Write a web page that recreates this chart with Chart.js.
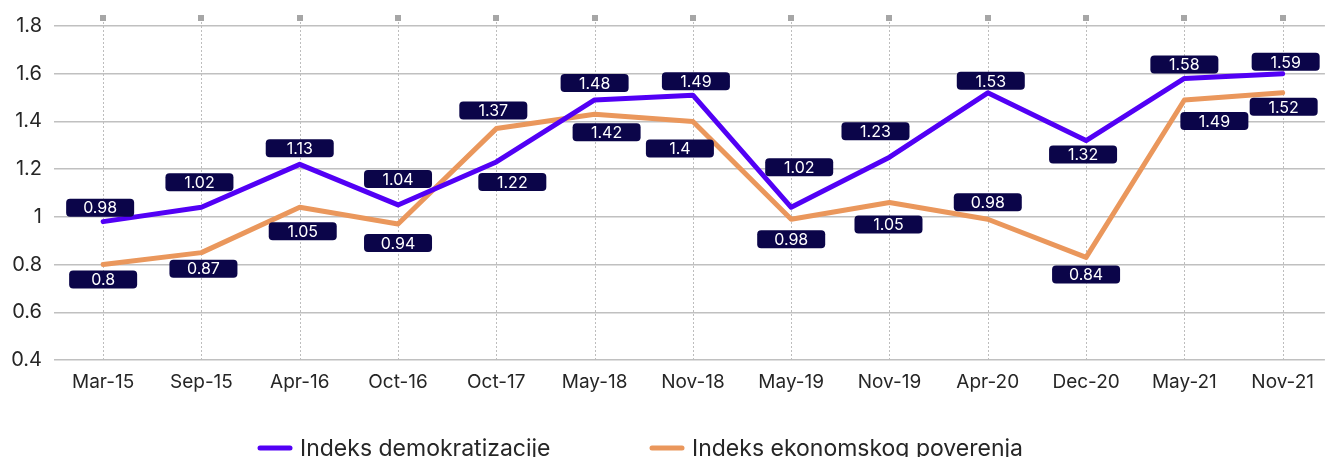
<!DOCTYPE html>
<html>
<head>
<meta charset="utf-8">
<script src="https://cdn.jsdelivr.net/npm/chart.js@4"></script>
<style>
  html, body { margin: 0; padding: 0; background: #fff; }
  #wrap { width: 1325px; height: 457px; position: relative; overflow: hidden; }
</style>
</head>
<body>
<div id="wrap"><canvas id="chart" width="1325" height="457"></canvas></div>
<script>
const categories = ["Mar-15", "Sep-15", "Apr-16", "Oct-16", "Oct-17", "May-18", "Nov-18", "May-19", "Nov-19", "Apr-20", "Dec-20", "May-21", "Nov-21"];

// line positions as drawn in the picture
const demokratizacija = [0.98, 1.04, 1.22, 1.05, 1.23, 1.49, 1.51, 1.04, 1.25, 1.52, 1.32, 1.58, 1.6];
const ekonomsko = [0.8, 0.85, 1.04, 0.97, 1.37, 1.43, 1.4, 0.99, 1.06, 0.99, 0.83, 1.49, 1.52];

// the printed data labels
const demoLabels = ["0.98", "1.02", "1.13", "1.04", "1.22", "1.48", "1.49", "1.02", "1.23", "1.53", "1.32", "1.58", "1.59"];
const ekonLabels = ["0.8", "0.87", "1.05", "0.94", "1.37", "1.42", "1.4", "0.98", "1.05", "0.98", "0.84", "1.49", "1.52"];

const seriesNames = ["Indeks demokratizacije", "Indeks ekonomskog poverenja"];

const PURPLE = "#5200f5";
const ORANGE = "#ea975c";
const NAVY = "#0b0549";
const TEXT = "#262626";
const FONT = "Inter, 'Open Sans', sans-serif";

// label box offsets from their point, px
const demoOffsets = [[-3, -14], [-2, -25], [0, -16], [0, -26], [16, 20], [0, -17], [3, -14], [8, -40], [-14, -26], [3, -12], [-3, 14], [0, -14], [3, -12]];
const ekonOffsets = [[0, 15], [2, 16], [3, 24], [0, 19], [-3, -18], [12, 18], [-13, 27], [0, 20], [-1, 22], [0, -17], [0, 17], [30, 21], [1, 14]];

function roundRect(ctx, x, y, w, h, r) {
  ctx.beginPath();
  ctx.moveTo(x + r, y);
  ctx.lineTo(x + w - r, y);
  ctx.quadraticCurveTo(x + w, y, x + w, y + r);
  ctx.lineTo(x + w, y + h - r);
  ctx.quadraticCurveTo(x + w, y + h, x + w - r, y + h);
  ctx.lineTo(x + r, y + h);
  ctx.quadraticCurveTo(x, y + h, x, y + h - r);
  ctx.lineTo(x, y + r);
  ctx.quadraticCurveTo(x, y, x + r, y);
  ctx.closePath();
}

const verticalGuides = {
  id: "verticalGuides",
  beforeDatasetsDraw(chart) {
    const { ctx, chartArea, scales } = chart;
    ctx.save();
    categories.forEach((c, i) => {
      const x = Math.round(scales.x.getPixelForValue(i)) + 0.5;
      ctx.strokeStyle = "#bdbdbd";
      ctx.lineWidth = 1;
      ctx.setLineDash([2, 2]);
      ctx.beginPath();
      ctx.moveTo(x, 18);
      ctx.lineTo(x, chartArea.bottom);
      ctx.stroke();
      ctx.setLineDash([]);
      ctx.fillStyle = "#a6a6a6";
      ctx.fillRect(x - 3.5, 15, 6, 6);
    });
    ctx.restore();
  },
};

const dataLabels = {
  id: "dataLabels",
  afterDatasetsDraw(chart) {
    const { ctx } = chart;
    const sets = [
      { meta: chart.getDatasetMeta(0), labels: demoLabels, offsets: demoOffsets },
      { meta: chart.getDatasetMeta(1), labels: ekonLabels, offsets: ekonOffsets },
    ];
    ctx.save();
    ctx.font = "16px " + FONT;
    ctx.textAlign = "center";
    ctx.textBaseline = "middle";
    sets.forEach((s) => {
      s.meta.data.forEach((pt, i) => {
        const cx = pt.x + s.offsets[i][0];
        const cy = pt.y + s.offsets[i][1];
        ctx.fillStyle = NAVY;
        roundRect(ctx, cx - 34, cy - 9, 68, 18, 4);
        ctx.fill();
        ctx.fillStyle = "#ffffff";
        ctx.fillText(s.labels[i], cx, cy + 1);
      });
    });
    ctx.restore();
  },
};

const bottomLegend = {
  id: "bottomLegend",
  afterDraw(chart) {
    const { ctx } = chart;
    const items = [
      { x: 258, color: PURPLE, text: seriesNames[0] },
      { x: 650, color: ORANGE, text: seriesNames[1] },
    ];
    const y = 448;
    ctx.save();
    ctx.font = "23px " + FONT;
    ctx.textBaseline = "middle";
    ctx.textAlign = "left";
    items.forEach((it) => {
      ctx.strokeStyle = it.color;
      ctx.lineWidth = 5;
      ctx.lineCap = "round";
      ctx.beginPath();
      ctx.moveTo(it.x + 2, y);
      ctx.lineTo(it.x + 32, y);
      ctx.stroke();
      ctx.fillStyle = TEXT;
      ctx.fillText(it.text, it.x + 42, y + 1);
    });
    ctx.restore();
  },
};

const toPoints = (arr) => arr.map((v, i) => ({ x: i, y: v }));

new Chart(document.getElementById("chart"), {
  type: "line",
  data: {
    datasets: [
      {
        label: seriesNames[0],
        data: toPoints(demokratizacija),
        borderColor: PURPLE,
        borderWidth: 5,
        pointRadius: 0,
        tension: 0,
        borderJoinStyle: "round",
        borderCapStyle: "round",
      },
      {
        label: seriesNames[1],
        data: toPoints(ekonomsko),
        borderColor: ORANGE,
        borderWidth: 5,
        pointRadius: 0,
        tension: 0,
        borderJoinStyle: "round",
        borderCapStyle: "round",
      },
    ],
  },
  options: {
    responsive: false,
    devicePixelRatio: 1,
    animation: false,
    layout: { padding: { top: 26, right: 0, bottom: 0, left: 0 } },
    plugins: {
      legend: { display: false },
      tooltip: { enabled: false },
    },
    scales: {
      x: {
        type: "linear",
        min: -0.5,
        max: 12.43,
        afterBuildTicks: (scale) => {
          scale.ticks = categories.map((c, i) => ({ value: i }));
        },
        afterFit: (scale) => {
          scale.height = 97;
        },
        grid: { display: false, drawTicks: false },
        border: { display: false },
        ticks: {
          autoSkip: false,
          maxRotation: 0,
          padding: 11,
          color: TEXT,
          font: { family: FONT, size: 19 },
          callback: (v) => categories[v],
        },
      },
      y: {
        min: 0.4,
        max: 1.8,
        afterFit: (scale) => {
          scale.width = 54;
        },
        grid: { color: "#c0c0c0", lineWidth: 1.5, drawTicks: false },
        border: { display: false },
        ticks: {
          stepSize: 0.2,
          padding: 12,
          color: TEXT,
          font: { family: FONT, size: 20 },
          callback: (v) => String(+v.toFixed(1)),
        },
      },
    },
  },
  plugins: [verticalGuides, dataLabels, bottomLegend],
});
</script>
</body>
</html>
